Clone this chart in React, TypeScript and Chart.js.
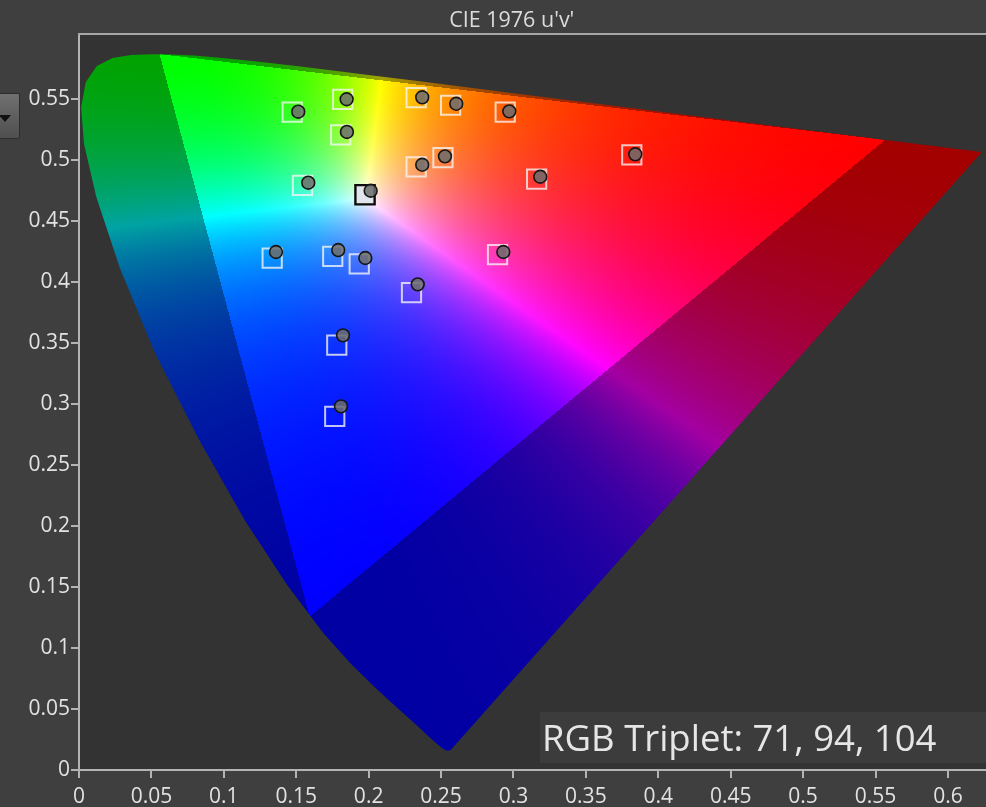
import React, { useEffect, useRef } from "react";
import { Chart, registerables } from "chart.js";

Chart.register(...registerables);

// ---------- text ----------
const TITLE = "CIE 1976 u'v'";
const RGB_LABEL = "RGB Triplet: 71, 94, 104";

// ---------- axes ----------
const U_MIN = 0;
const U_MAX = 0.6263;
const V_MIN = 0;
const V_MAX = 0.6033;
const U_TICKS = [0, 0.05, 0.1, 0.15, 0.2, 0.25, 0.3, 0.35, 0.4, 0.45, 0.5, 0.55, 0.6];
const V_TICKS = [0, 0.05, 0.1, 0.15, 0.2, 0.25, 0.3, 0.35, 0.4, 0.45, 0.5, 0.55];

// ---------- targets (squares) ----------
const TARGET_U = [0.1472, 0.1821, 0.1807, 0.2328, 0.2566, 0.2943, 0.2328, 0.2513, 0.316, 0.1543, 0.3817, 0.1334, 0.1752, 0.1935, 0.2296, 0.289, 0.178, 0.1766];
const TARGET_V = [0.5392, 0.5498, 0.5207, 0.5512, 0.5449, 0.5392, 0.4944, 0.502, 0.4844, 0.4793, 0.5043, 0.4195, 0.4211, 0.4148, 0.3914, 0.4224, 0.3482, 0.2898];

// ---------- white point target ----------
const WHITE_TARGET_U = [0.1975];
const WHITE_TARGET_V = [0.4715];

// ---------- measured (circles) ----------
const MEASURED_U = [0.1514, 0.1848, 0.185, 0.237, 0.2605, 0.2971, 0.237, 0.2527, 0.3185, 0.1583, 0.2014, 0.3841, 0.136, 0.179, 0.1977, 0.2339, 0.293, 0.1823, 0.1809];
const MEASURED_V = [0.5396, 0.5498, 0.523, 0.5514, 0.5461, 0.5399, 0.4961, 0.503, 0.4863, 0.4814, 0.4748, 0.5047, 0.4246, 0.4262, 0.4197, 0.3981, 0.4246, 0.3563, 0.2981];

// ---------- CIE 1931 2° spectral locus (x, y), 380–700 nm step 5 ----------
const LOCUS_X = [0.1741, 0.174, 0.1738, 0.1736, 0.1733, 0.173, 0.1726, 0.1721, 0.1714, 0.1703, 0.1689, 0.1669, 0.1644, 0.1611, 0.1566, 0.151, 0.144, 0.1355, 0.1241, 0.1096, 0.0913, 0.0687, 0.0454, 0.0235, 0.0082, 0.0039, 0.0139, 0.0389, 0.0743, 0.1142, 0.1547, 0.1929, 0.2296, 0.2658, 0.3016, 0.3373, 0.3731, 0.4087, 0.4441, 0.4788, 0.5125, 0.5448, 0.5752, 0.6029, 0.627, 0.6482, 0.6658, 0.6801, 0.6915, 0.7006, 0.7079, 0.714, 0.719, 0.723, 0.726, 0.7283, 0.73, 0.7311, 0.732, 0.7327, 0.7334, 0.734, 0.7344, 0.7346, 0.7347];
const LOCUS_Y = [0.005, 0.005, 0.0049, 0.0049, 0.0048, 0.0048, 0.0048, 0.0048, 0.0051, 0.0058, 0.0069, 0.0086, 0.0109, 0.0138, 0.0177, 0.0227, 0.0297, 0.0399, 0.0578, 0.0868, 0.1327, 0.2007, 0.295, 0.4127, 0.5384, 0.6548, 0.7502, 0.812, 0.8338, 0.8262, 0.8059, 0.7816, 0.7543, 0.7243, 0.6923, 0.6589, 0.6245, 0.5896, 0.5547, 0.5202, 0.4866, 0.4544, 0.4242, 0.3965, 0.3725, 0.3514, 0.334, 0.3197, 0.3083, 0.2993, 0.292, 0.2859, 0.2809, 0.277, 0.274, 0.2717, 0.27, 0.2689, 0.268, 0.2673, 0.2666, 0.266, 0.2656, 0.2654, 0.2653];

// ---------- styling ----------
const PAGE_BG = "#3f3f3f";
const PLOT_BG = "#333333";
const AXIS_COLOR = "#b4b4b4";
const TEXT_COLOR = "#e2e2e2";
const FONT = "'Open Sans', 'Noto Sans', sans-serif";
const CHANNEL_POWER = [2.2, 1.35, 1.5];

function xyToUv(x: number, y: number) {
  const d = -2 * x + 12 * y + 3;
  return { u: (4 * x) / d, v: (9 * y) / d };
}

// colour of a chromaticity, rendered through Rec.2020 primaries
function chromaColor(u: number, v: number): [number, number, number] {
  const d = 6 * u - 16 * v + 12;
  const x = (9 * u) / d;
  const y = (4 * v) / d;
  if (y <= 1e-6) return [0, 0, 0];
  const X = x / y;
  const Z = (1 - x - y) / y;
  let r = 1.7166512 * X - 0.3556708 - 0.2533663 * Z;
  let g = -0.6666844 * X + 1.6164812 + 0.0157685 * Z;
  let b = 0.0176399 * X - 0.0427706 + 0.9421031 * Z;
  const inside = r >= 0 && g >= 0 && b >= 0;
  r = Math.max(r, 0);
  g = Math.max(g, 0);
  b = Math.max(b, 0);
  const m = Math.max(r, g, b) || 1;
  const k = inside ? 255 : 163;
  return [
    Math.pow(r / m, CHANNEL_POWER[0]) * k,
    Math.pow(g / m, CHANNEL_POWER[1]) * k,
    Math.pow(b / m, CHANNEL_POWER[2]) * k,
  ];
}

const diagramPlugin = {
  id: "cieDiagram",
  beforeDraw(chart: any) {
    const { ctx, chartArea: a } = chart;
    ctx.save();
    ctx.fillStyle = PLOT_BG;
    ctx.fillRect(a.left, a.top, a.right - a.left, a.bottom - a.top);
    ctx.restore();
  },
  beforeDatasetsDraw(chart: any) {
    const { ctx, chartArea: a, scales } = chart;
    const xs = scales.x;
    const ys = scales.y;
    const w = Math.ceil(a.right - a.left);
    const h = Math.ceil(a.bottom - a.top);
    const off = document.createElement("canvas");
    off.width = w;
    off.height = h;
    const octx = off.getContext("2d")!;
    const img = octx.createImageData(w, h);
    const us = new Float64Array(w);
    const vs = new Float64Array(h);
    for (let i = 0; i < w; i++) us[i] = xs.getValueForPixel(a.left + i + 0.5);
    for (let j = 0; j < h; j++) vs[j] = ys.getValueForPixel(a.top + j + 0.5);
    const data = img.data;
    for (let j = 0; j < h; j++) {
      for (let i = 0; i < w; i++) {
        const c = chromaColor(us[i], vs[j]);
        const p = (j * w + i) * 4;
        data[p] = c[0];
        data[p + 1] = c[1];
        data[p + 2] = c[2];
        data[p + 3] = 255;
      }
    }
    octx.putImageData(img, 0, 0);

    ctx.save();
    ctx.beginPath();
    for (let k = 0; k < LOCUS_X.length; k++) {
      const { u, v } = xyToUv(LOCUS_X[k], LOCUS_Y[k]);
      const px = xs.getPixelForValue(u);
      const py = ys.getPixelForValue(v);
      if (k === 0) ctx.moveTo(px, py);
      else ctx.lineTo(px, py);
    }
    ctx.closePath();
    ctx.clip();
    ctx.drawImage(off, a.left, a.top);
    ctx.restore();
  },
  afterDraw(chart: any) {
    const { ctx, chartArea: a, width } = chart;
    ctx.save();
    // top frame line
    ctx.fillStyle = "#a6a6a6";
    ctx.fillRect(a.left - 1, a.top - 1, a.right - a.left + 1, 2);
    // title
    ctx.fillStyle = "#dcdcdc";
    ctx.font = `21.5px ${FONT}`;
    ctx.textAlign = "center";
    ctx.textBaseline = "alphabetic";
    ctx.fillText(TITLE, width * 0.519, 27);
    // RGB triplet readout
    const boxLeft = a.right - 446;
    const boxTop = a.bottom - 58;
    ctx.fillStyle = "#3c3c3c";
    ctx.fillRect(boxLeft, boxTop, a.right - boxLeft, 51);
    ctx.fillStyle = "#e6e6e6";
    ctx.font = `36.5px ${FONT}`;
    ctx.textAlign = "left";
    ctx.fillText(RGB_LABEL, boxLeft + 2, boxTop + 39);
    ctx.restore();
  },
};

function keepTicks(list: number[]) {
  return (scale: any) => {
    scale.ticks = list.map((value) => ({ value }));
  };
}

export default function App() {
  const canvasRef = useRef<HTMLCanvasElement | null>(null);

  useEffect(() => {
    const canvas = canvasRef.current;
    if (!canvas) return;

    const circles = MEASURED_U.map((u, i) => ({ x: u, y: MEASURED_V[i] }));
    const squares = TARGET_U.map((u, i) => ({ x: u, y: TARGET_V[i] }));
    const white = WHITE_TARGET_U.map((u, i) => ({ x: u, y: WHITE_TARGET_V[i] }));

    const tickFont = { family: FONT, size: 21 };

    const chart = new Chart(canvas, {
      type: "scatter",
      data: {
        datasets: [
          {
            label: "Measured",
            data: circles,
            order: 0,
            pointStyle: "circle",
            pointRadius: 6.4,
            pointBorderWidth: 1.6,
            backgroundColor: "rgba(108,108,108,0.86)",
            borderColor: "#161616",
          },
          {
            label: "White target",
            data: white,
            order: 1,
            pointStyle: "rect",
            pointRadius: 13.6,
            pointBorderWidth: 2.4,
            backgroundColor: "#e1e5ec",
            borderColor: "#0c0c0c",
          },
          {
            label: "Target",
            data: squares,
            order: 2,
            pointStyle: "rect",
            pointRadius: 13.6,
            pointBorderWidth: 2,
            backgroundColor: "rgba(0,0,0,0)",
            borderColor: "rgba(246,246,246,0.78)",
          },
        ],
      },
      options: {
        responsive: false,
        animation: false,
        events: [],
        layout: { autoPadding: false, padding: { top: 34, left: 0, right: 0, bottom: 0 } },
        plugins: {
          legend: { display: false },
          tooltip: { enabled: false },
          title: { display: false },
        },
        scales: {
          x: {
            type: "linear",
            min: U_MIN,
            max: U_MAX,
            afterBuildTicks: keepTicks(U_TICKS),
            afterFit: (scale: any) => {
              scale.height = 37;
              scale.paddingLeft = 0;
              scale.paddingRight = 0;
            },
            border: { display: true, color: AXIS_COLOR, width: 2 },
            grid: {
              display: true,
              drawOnChartArea: false,
              drawTicks: true,
              tickLength: 8,
              color: AXIS_COLOR,
              lineWidth: 2,
            },
            ticks: {
              color: TEXT_COLOR,
              font: tickFont,
              padding: 6,
              maxRotation: 0,
              autoSkip: false,
              callback: (v: any) => String(Math.round(Number(v) * 100) / 100),
            },
          },
          y: {
            type: "linear",
            min: V_MIN,
            max: V_MAX,
            afterBuildTicks: keepTicks(V_TICKS),
            afterFit: (scale: any) => {
              scale.width = 79;
              scale.paddingTop = 0;
              scale.paddingBottom = 0;
            },
            border: { display: true, color: AXIS_COLOR, width: 2 },
            grid: {
              display: true,
              drawOnChartArea: false,
              drawTicks: true,
              tickLength: 8,
              color: AXIS_COLOR,
              lineWidth: 2,
            },
            ticks: {
              color: TEXT_COLOR,
              font: tickFont,
              padding: 1,
              autoSkip: false,
              callback: (v: any) => String(Math.round(Number(v) * 100) / 100),
            },
          },
        },
      },
      plugins: [diagramPlugin],
    } as any);

    return () => chart.destroy();
  }, []);

  return (
    <div
      style={{
        position: "fixed",
        left: 0,
        top: 0,
        width: 986,
        height: 807,
        background: PAGE_BG,
        overflow: "hidden",
      }}
    >
      <canvas ref={canvasRef} width={986} height={807} style={{ display: "block" }} />
      <div
        style={{
          position: "absolute",
          left: -2,
          top: 93,
          width: 22,
          height: 46,
          boxSizing: "border-box",
          border: "1px solid #2c2c2c",
          borderRadius: 2,
          background: "linear-gradient(#707070, #4f4f4f)",
        }}
      />
      <div
        style={{
          position: "absolute",
          left: -1,
          top: 115,
          width: 0,
          height: 0,
          borderLeft: "6px solid transparent",
          borderRight: "6px solid transparent",
          borderTop: "7px solid #111",
        }}
      />
    </div>
  );
}
